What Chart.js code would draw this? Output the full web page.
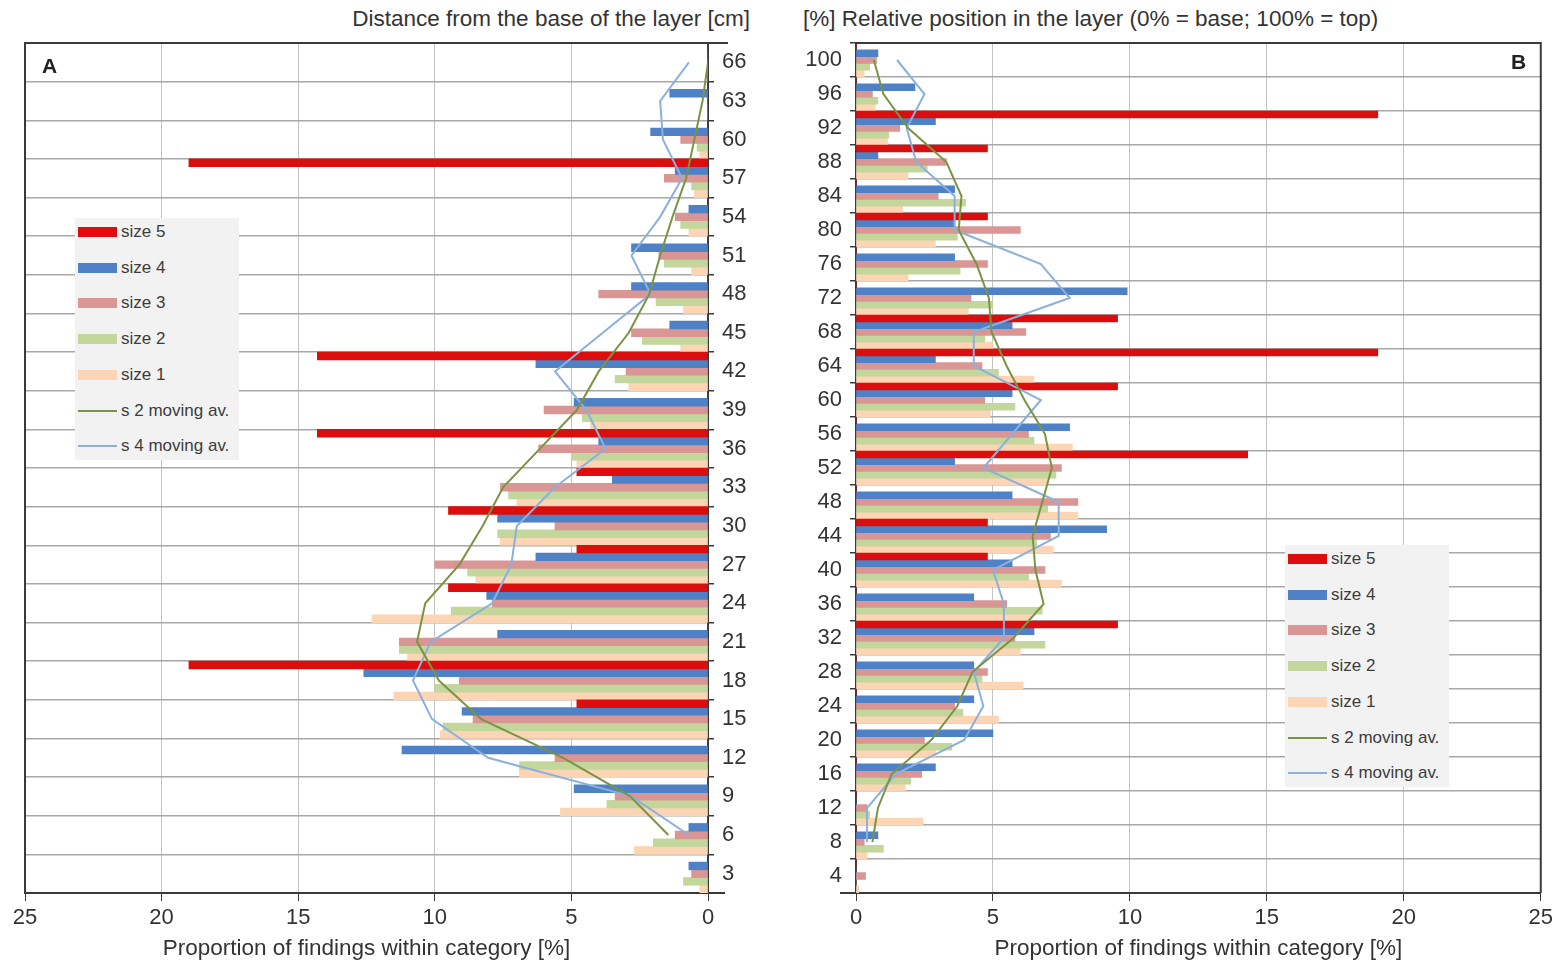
<!DOCTYPE html>
<html>
<head>
<meta charset="utf-8">
<script src="https://cdn.jsdelivr.net/npm/chart.js@4.4.1/dist/chart.umd.min.js"></script>
<style>
  body { margin: 0; background: #fff; width: 1557px; height: 963px; position: relative; overflow: hidden; font-family: "Liberation Sans", Arial, sans-serif; color: #333; }
  canvas { position: absolute; top: 0; }
  #chartA { left: 0; }
  #chartB { left: 780px; }
  .topTitle { position: absolute; top: 6px; font-size: 22.5px; white-space: nowrap; color: #333; }
  .panelTag { position: absolute; font-size: 21px; font-weight: bold; color: #222; }
  .legend { position: absolute; background: #f2f2f2; width: 164px; height: 242px; }
  .legend .item { position: absolute; left: 3px; height: 20px; font-family: "Liberation Sans Narrow", "Arial Narrow", "Liberation Sans", sans-serif; font-size: 17px; color: #3c3c3c; white-space: nowrap; }
  .legend .sw { position: absolute; left: 0; width: 39px; }
  .legend .txt { position: absolute; left: 43px; top: 0; line-height: 20px; }
</style>
</head>
<body>
<div class="topTitle" id="titleA" style="right: 807px;">Distance from the base of the layer [cm]</div>
<div class="topTitle" id="titleB" style="left: 803px;">[%] Relative position in the layer (0% = base; 100% = top)</div>
<canvas id="chartA" width="780" height="963"></canvas>
<canvas id="chartB" width="777" height="963"></canvas>
<div class="panelTag" style="left: 42px; top: 54px;">A</div>
<div class="panelTag" style="left: 1511px; top: 50px;">B</div>
<div class="legend" id="legendA" style="left: 75px; top: 218px;"></div>
<div class="legend" id="legendB" style="left: 1285px; top: 545px;"></div>
<script>
// ---- Panel A: distance from base [cm], listed top to bottom ----
const catA = ['66', '63', '60', '57', '54', '51', '48', '45', '42', '39', '36', '33', '30', '27', '24', '21', '18', '15', '12', '9', '6', '3'];
const aSize5 = [0, 0, 0, 19.0, 0, 0, 0, 0, 14.3, 0, 14.3, 4.8, 9.5, 4.8, 9.5, 0, 19.0, 4.8, 0, 0, 0, 0];
const aSize4 = [0, 1.4, 2.1, 1.2, 0.7, 2.8, 2.8, 1.4, 6.3, 4.9, 4.0, 3.5, 7.7, 6.3, 8.1, 7.7, 12.6, 9.0, 11.2, 4.9, 0.7, 0.7];
const aSize3 = [0, 0, 1.0, 1.6, 1.2, 1.8, 4.0, 2.8, 3.0, 6.0, 6.2, 7.6, 5.6, 10.0, 7.9, 11.3, 9.1, 8.6, 5.6, 3.4, 1.2, 0.6];
const aSize2 = [0, 0, 0.4, 0.6, 1.0, 1.6, 1.9, 2.4, 3.4, 4.6, 5.0, 7.3, 7.7, 8.8, 9.4, 11.3, 10.0, 9.7, 6.9, 3.7, 2.0, 0.9];
const aSize1 = [0, 0, 0.3, 0.5, 0.7, 0.6, 0.9, 1.0, 2.9, 4.3, 4.8, 7.0, 7.6, 8.5, 12.3, 11.0, 11.5, 9.8, 6.9, 5.4, 2.7, 0.3];
const aMov2 = [0, 0.2, 0.5, 0.8, 1.3, 1.75, 2.15, 2.9, 4.0, 4.8, 6.15, 7.5, 8.25, 9.1, 10.35, 10.65, 9.85, 8.3, 5.3, 2.85, 1.45, null];
const aMov4 = [0.7, 1.75, 1.65, 0.95, 1.75, 2.8, 2.1, 3.85, 5.6, 4.45, 3.75, 5.6, 7.0, 7.2, 7.9, 10.15, 10.8, 10.1, 8.05, 2.8, 0.7, null];

// ---- Panel B: relative position [%], listed top to bottom ----
const catB = ['100', '96', '92', '88', '84', '80', '76', '72', '68', '64', '60', '56', '52', '48', '44', '40', '36', '32', '28', '24', '20', '16', '12', '8', '4'];
const bSize5 = [0, 0, 19.05, 4.8, 0, 4.8, 0, 0, 9.55, 19.05, 9.55, 0, 14.3, 0, 4.8, 4.8, 0, 9.55, 0, 0, 0, 0, 0, 0, 0];
const bSize4 = [0.8, 2.15, 2.9, 0.8, 3.6, 3.6, 3.6, 9.9, 5.7, 2.9, 5.7, 7.8, 3.6, 5.7, 9.15, 5.7, 4.3, 6.5, 4.3, 4.3, 5.0, 2.9, 0, 0.8, 0];
const bSize3 = [0.75, 0.6, 1.6, 3.3, 3.0, 6.0, 4.8, 4.2, 6.2, 4.6, 4.7, 6.3, 7.5, 8.1, 7.1, 6.9, 5.5, 5.8, 4.8, 3.6, 2.5, 2.4, 0.4, 0.3, 0.35];
const bSize2 = [0.5, 0.8, 1.2, 2.6, 4.0, 3.7, 3.8, 5.0, 4.7, 5.2, 5.8, 6.5, 7.3, 7.0, 6.6, 6.3, 6.8, 6.9, 4.6, 3.9, 3.5, 2.0, 0.5, 1.0, 0];
const bSize1 = [0.3, 0.7, 1.15, 1.9, 1.7, 2.9, 1.9, 4.1, 5.0, 6.5, 4.9, 7.9, 7.0, 8.1, 7.2, 7.5, 6.4, 6.0, 6.1, 5.2, 2.9, 1.8, 2.45, 0.4, 0.1];
const bMov2 = [0.65, 1.0, 1.9, 3.3, 3.85, 3.75, 4.4, 4.85, 4.95, 5.5, 6.15, 6.9, 7.15, 6.8, 6.45, 6.55, 6.85, 5.75, 4.25, 3.7, 2.75, 1.3, 0.8, 0.6, null];
const bMov4 = [1.5, 2.5, 1.85, 2.2, 3.6, 3.6, 6.75, 7.8, 4.3, 4.3, 6.75, 5.7, 4.65, 7.4, 7.4, 5.0, 5.4, 5.4, 4.3, 4.65, 3.95, 1.45, 0.4, 0.4, null];

const xTicks = [0, 5, 10, 15, 20, 25];
const barNames = ['size 5', 'size 4', 'size 3', 'size 2', 'size 1'];
const barColors = ['#dc0d0d', '#4f81c6', '#d99694', '#c3d69b', '#fcd5b5'];
const lineNames = ['s 2 moving av.', 's 4 moving av.'];
const lineColors = ['#7a9444', '#8cb0dc'];

Chart.defaults.font.family = '"Liberation Sans", Arial, sans-serif';
Chart.defaults.color = '#333';

// box round the plot area, the axis lines run a little past the corner
const frame = {
    id: 'frame',
    afterDraw(chart, args, opts) {
        const a = chart.chartArea;
        const c = chart.ctx;
        c.save();
        c.strokeStyle = '#3a3a3a';
        c.lineWidth = 2;
        c.beginPath();
        if (opts.side === 'left') {
            c.moveTo(a.left, a.bottom);
            c.lineTo(a.left, a.top);
            c.lineTo(a.right + 20, a.top);
            c.moveTo(a.right, a.bottom);
            c.lineTo(a.right + 17, a.bottom);
        } else {
            c.moveTo(a.right, a.bottom);
            c.lineTo(a.right, a.top);
            c.lineTo(a.left, a.top);
            c.moveTo(a.left, a.bottom);
            c.lineTo(a.left - 16, a.bottom);
        }
        c.stroke();
        c.restore();
    }
};

function makeDatasets(bars, lines) {
    const sets = bars.map((d, i) => ({
        type: 'bar',
        label: barNames[i],
        data: d,
        backgroundColor: barColors[i],
        borderWidth: 0,
        categoryPercentage: 1.0,
        barPercentage: 1.0,
        order: 1
    }));
    lines.forEach((d, i) => sets.push({
        type: 'line',
        label: lineNames[i],
        data: d,
        borderColor: lineColors[i],
        borderWidth: 2,
        pointRadius: 0,
        tension: 0,
        fill: false,
        order: 0
    }));
    return sets;
}

function makeChart(id, labels, bars, lines, reversed) {
    new Chart(document.getElementById(id), {
        data: { labels: labels, datasets: makeDatasets(bars, lines) },
        plugins: [frame],
        options: {
            indexAxis: 'y',
            responsive: false,
            animation: false,
            layout: { padding: reversed ? { left: 25, top: 43, right: 0, bottom: 0 } : { left: 0, top: 43, right: 14, bottom: 0 } },
            plugins: { legend: { display: false }, tooltip: { enabled: false }, frame: { side: reversed ? 'left' : 'right' } },
            scales: {
                x: {
                    type: 'linear',
                    min: 0,
                    max: 25,
                    reverse: reversed,
                    afterBuildTicks: s => { s.ticks = xTicks.map(v => ({ value: v })); },
                    afterFit: s => { s.height = 70; },
                    ticks: { font: { size: 22 }, color: '#333', padding: 4 },
                    grid: { color: '#c4c4c4', lineWidth: 1, tickLength: 8, tickColor: '#3a3a3a' },
                    border: { color: '#3a3a3a', width: 2 },
                    title: { display: true, text: 'Proportion of findings within category [%]', font: { size: 22.5 }, color: '#333', padding: { top: 0, bottom: 1 } }
                },
                y: {
                    position: reversed ? 'right' : 'left',
                    afterFit: s => { s.width = reversed ? 72 : 76; },
                    ticks: { font: { size: 22 }, color: '#333', padding: 8, autoSkip: false },
                    grid: { color: '#a8a8a8', lineWidth: 1.5, tickLength: 6, tickColor: '#3a3a3a' },
                    border: { color: '#3a3a3a', width: 2 }
                }
            }
        }
    });
}

makeChart('chartA', catA, [aSize5, aSize4, aSize3, aSize2, aSize1], [aMov2, aMov4], true);
makeChart('chartB', catB, [bSize5, bSize4, bSize3, bSize2, bSize1], [bMov2, bMov4], false);

function buildLegend(id) {
    const box = document.getElementById(id);
    const names = barNames.concat(lineNames);
    names.forEach((name, i) => {
        const item = document.createElement('div');
        item.className = 'item';
        item.style.top = (4 + i * 35.7) + 'px';
        const sw = document.createElement('div');
        sw.className = 'sw';
        if (i < barNames.length) {
            sw.style.top = '5px';
            sw.style.height = '10px';
            sw.style.background = barColors[i];
        } else {
            sw.style.top = '9px';
            sw.style.height = '2px';
            sw.style.background = lineColors[i - barNames.length];
        }
        const txt = document.createElement('div');
        txt.className = 'txt';
        txt.textContent = name;
        item.appendChild(sw);
        item.appendChild(txt);
        box.appendChild(item);
    });
}
buildLegend('legendA');
buildLegend('legendB');
</script>
</body>
</html>
